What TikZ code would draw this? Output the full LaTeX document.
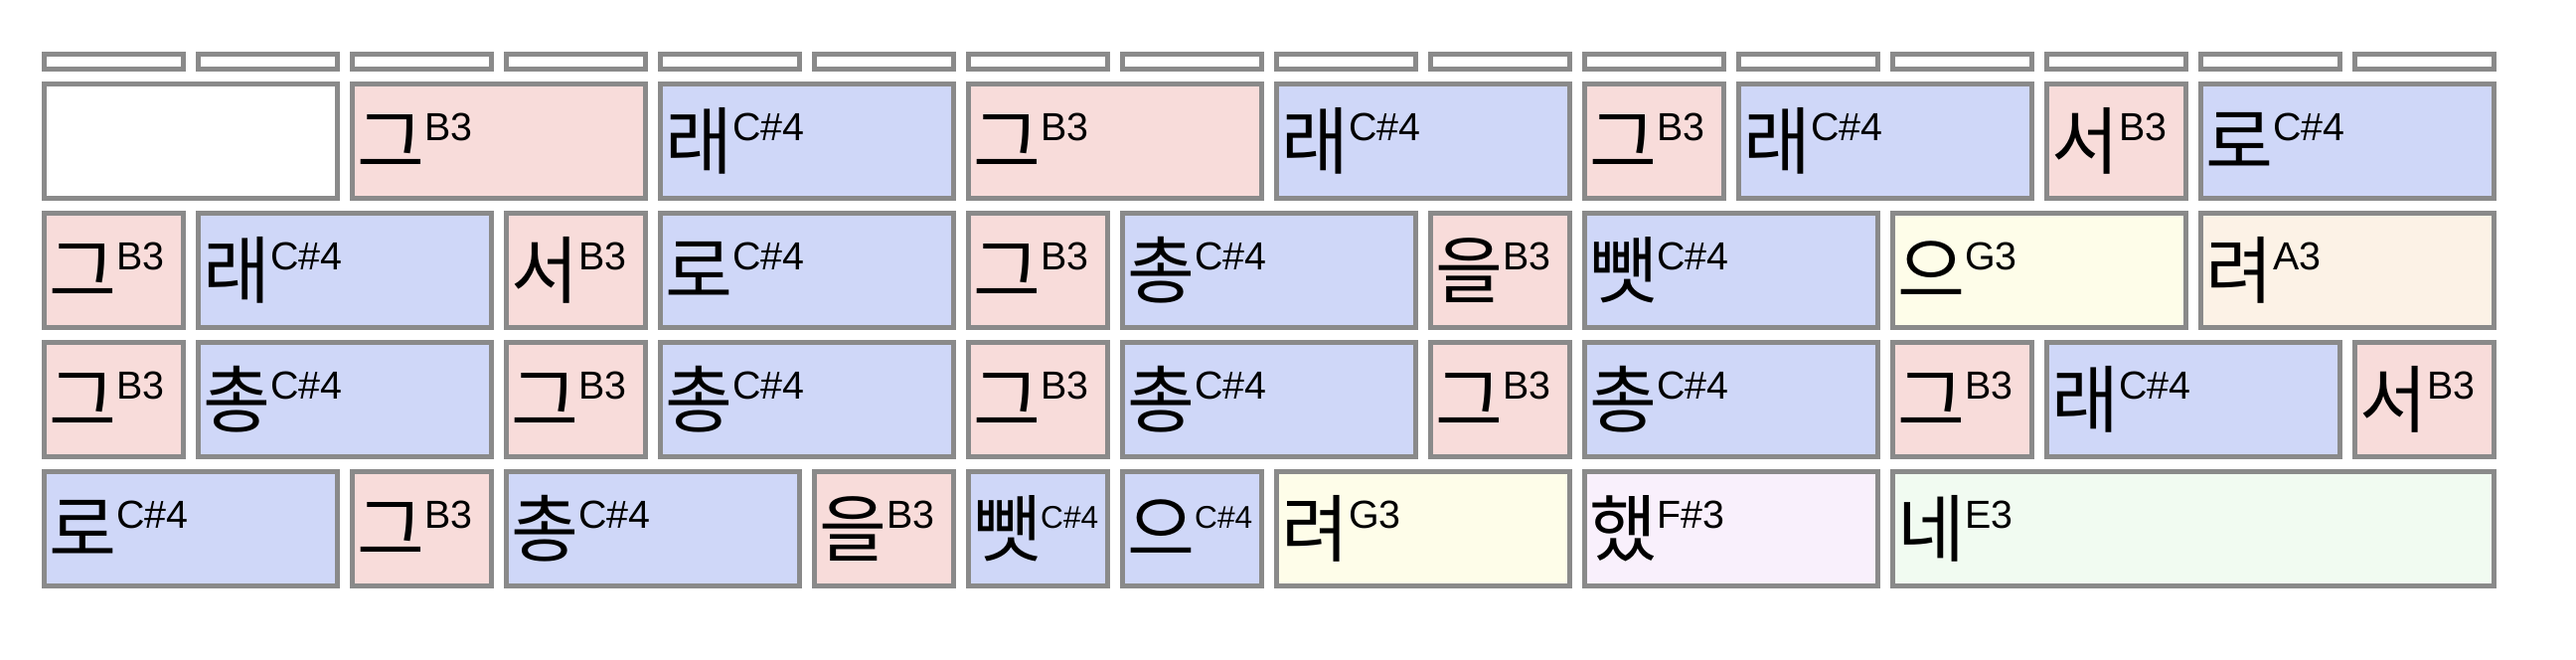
\documentclass[tikz,border=0pt]{standalone}
\usepackage{fontspec}
\setmainfont{Liberation Sans}
\newfontfamily\hangul{Noto Sans CJK KR}
\usetikzlibrary{positioning}
\definecolor{gridline}{HTML}{8A8A8A}
\definecolor{noteB}{HTML}{F8DCDA}
\definecolor{noteCs}{HTML}{CFD7F8}
\definecolor{noteG}{HTML}{FEFDE9}
\definecolor{noteA}{HTML}{FCF2E6}
\definecolor{noteFs}{HTML}{F9F0FC}
\definecolor{noteE}{HTML}{F1FBF1}
% syllable with its pitch as a raised note name
\newcommand{\syl}[2]{{\hangul\fontsize{21pt}{21pt}\selectfont\vphantom{래}#1}\raisebox{8pt}{\fontsize{11.2pt}{12pt}\selectfont #2}}
\newcommand{\sylsm}[2]{{\hangul\fontsize{21pt}{21pt}\selectfont\vphantom{래}#1}\raisebox{8pt}{\fontsize{9pt}{10pt}\selectfont #2}}

\begin{document}
\begin{tikzpicture}[x=0.01cm,y=0.01cm,
    cell/.style={draw=gridline,line width=1.34pt,inner sep=0,minimum height=1.153cm},
    beat/.style={draw=gridline,line width=1.34pt,fill=white,inner sep=0,minimum width=1.403cm,minimum height=0.153cm},
    syltext/.style={inner sep=0,anchor=west}]
  \useasboundingbox (0,0) rectangle (2592,664);
  % beat markers on top
  \foreach \c in {0,...,15}
    \node[beat] (b\c) at ({42+155*\c+72.5},602) {};
  % empty lead-in cell
  \node[cell,fill=white,minimum width=2.953cm] (c1-0) at (192,522) {};
  % cells: row/column/span/colour/syllable/note
  \foreach \r/\c/\n/\col/\txt in {
      1/2/2/noteB/{\syl{그}{B3}}, 1/4/2/noteCs/{\syl{래}{C\#4}}, 1/6/2/noteB/{\syl{그}{B3}},
      1/8/2/noteCs/{\syl{래}{C\#4}}, 1/10/1/noteB/{\syl{그}{B3}}, 1/11/2/noteCs/{\syl{래}{C\#4}},
      1/13/1/noteB/{\syl{서}{B3}}, 1/14/2/noteCs/{\syl{로}{C\#4}},
      2/0/1/noteB/{\syl{그}{B3}}, 2/1/2/noteCs/{\syl{래}{C\#4}}, 2/3/1/noteB/{\syl{서}{B3}},
      2/4/2/noteCs/{\syl{로}{C\#4}}, 2/6/1/noteB/{\syl{그}{B3}}, 2/7/2/noteCs/{\syl{총}{C\#4}},
      2/9/1/noteB/{\syl{을}{B3}}, 2/10/2/noteCs/{\syl{뺏}{C\#4}}, 2/12/2/noteG/{\syl{으}{G3}},
      2/14/2/noteA/{\syl{려}{A3}},
      3/0/1/noteB/{\syl{그}{B3}}, 3/1/2/noteCs/{\syl{총}{C\#4}}, 3/3/1/noteB/{\syl{그}{B3}},
      3/4/2/noteCs/{\syl{총}{C\#4}}, 3/6/1/noteB/{\syl{그}{B3}}, 3/7/2/noteCs/{\syl{총}{C\#4}},
      3/9/1/noteB/{\syl{그}{B3}}, 3/10/2/noteCs/{\syl{총}{C\#4}}, 3/12/1/noteB/{\syl{그}{B3}},
      3/13/2/noteCs/{\syl{래}{C\#4}}, 3/15/1/noteB/{\syl{서}{B3}},
      4/0/2/noteCs/{\syl{로}{C\#4}}, 4/2/1/noteB/{\syl{그}{B3}}, 4/3/2/noteCs/{\syl{총}{C\#4}},
      4/5/1/noteB/{\syl{을}{B3}}, 4/6/1/noteCs/{\sylsm{뺏}{C\#4}}, 4/7/1/noteCs/{\sylsm{으}{C\#4}},
      4/8/2/noteG/{\syl{려}{G3}}, 4/10/2/noteFs/{\syl{했}{F\#3}}, 4/12/4/noteE/{\syl{네}{E3}}}
  {
    \pgfmathsetmacro\w{(155*\n-14.7)*0.01}
    \node[cell,fill=\col,minimum width=\w cm] (c\r-\c) at ({42+155*\c+(155*\n-10)/2},{522-130*(\r-1)}) {};
    \node[syltext,right=0.065cm of c\r-\c.west] (t\r-\c) {\txt};
  }
\end{tikzpicture}
\end{document}
